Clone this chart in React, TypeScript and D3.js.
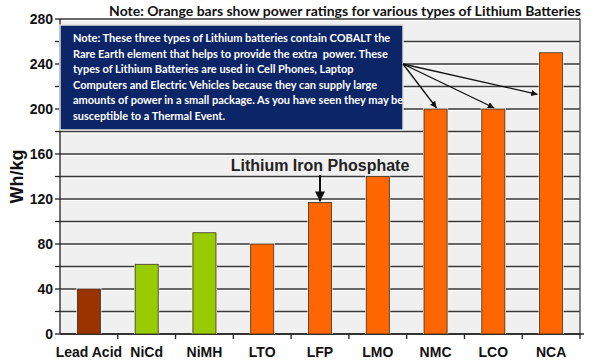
import React from 'react'
import * as d3 from 'd3'

const WIDTH = 600
const HEIGHT = 362
const LEFT = 60
const RIGHT = 580
const TOP = 19
const BOTTOM = 334

const categories = ['Lead Acid', 'NiCd', 'NiMH', 'LTO', 'LFP', 'LMO', 'NMC', 'LCO', 'NCA']
const values = [40, 62, 90, 80, 117, 140, 200, 200, 250]
const kinds = ['lead', 'nickel', 'nickel', 'lithium', 'lithium', 'lithium', 'lithium', 'lithium', 'lithium']
const yLabels = [0, 40, 80, 120, 160, 200, 240, 280]
const cobaltTypes = ['NMC', 'LCO', 'NCA']

const noteLines = [
  'Note: These three types of Lithium batteries contain COBALT the',
  'Rare Earth element that helps to provide the extra  power. These',
  'types of Lithium Batteries are used in Cell Phones, Laptop',
  'Computers and Electric Vehicles because they can supply large',
  'amounts of power in a small package. As you have seen they may be',
  'susceptible to a Thermal Event.',
]

const colours: Record<string, string> = {
  lead: '#993300',
  nickel: '#99cc00',
  lithium: '#ff6600',
}

const BOLD = '"Liberation Sans", Arial, sans-serif'
const NOTE_FONT = 'Lato, "Open Sans", sans-serif'

export default function App() {
  const x = d3.scaleBand<string>().domain(categories).range([LEFT, RIGHT]).padding(0)
  const y = d3.scaleLinear().domain([0, 280]).range([BOTTOM, TOP])
  const bw = x.bandwidth()
  const gridValues = d3.range(0, 281, 20)

  const barX = (c: string) => (x(c) as number) + bw * 0.3
  const barW = bw * 0.4
  const centre = (c: string) => (x(c) as number) + bw / 2

  // note box sits on the top-left of the plot
  const box = { x0: LEFT, y0: 25, x1: 403, y1: 130 }
  const arrowFrom = { x: box.x1, y: y(240) }

  return (
    <svg width={WIDTH} height={HEIGHT} style={{ position: 'absolute', left: 0, top: 0, background: '#fff' }}>
      <defs>
        <marker id="ah" viewBox="0 0 10 10" refX="10" refY="5" markerWidth="5" markerHeight="5" orient="auto">
          <path d="M0,0 L10,5 L0,10 z" fill="#111" />
        </marker>
      </defs>

      <rect x={LEFT} y={TOP} width={RIGHT - LEFT} height={BOTTOM - TOP} fill="#f0f0f0" />

      {gridValues.map(v => (
        <g key={v}>
          <line x1={LEFT} x2={RIGHT} y1={y(v) + 1.5} y2={y(v) + 1.5} stroke="#fff" strokeWidth={1.2} />
          <line x1={LEFT} x2={RIGHT} y1={y(v)} y2={y(v)} stroke="#3a3a3a" strokeWidth={1.5} />
          <line x1={LEFT - 5} x2={LEFT} y1={y(v)} y2={y(v)} stroke="#222" strokeWidth={1.3} />
        </g>
      ))}

      <line x1={RIGHT} x2={RIGHT} y1={TOP} y2={BOTTOM} stroke="#444" strokeWidth={1.3} />
      <line x1={LEFT} x2={LEFT} y1={TOP} y2={BOTTOM} stroke="#222" strokeWidth={1.3} />
      <line x1={LEFT} x2={RIGHT + 4} y1={BOTTOM} y2={BOTTOM} stroke="#222" strokeWidth={1.3} />

      {categories.map((c, i) => (
        <g key={c}>
          <line x1={(x(c) as number) + bw} x2={(x(c) as number) + bw} y1={BOTTOM} y2={BOTTOM + 5} stroke="#222" strokeWidth={1.3} />
          <rect x={barX(c) - 1} y={y(values[i]) - 1} width={barW + 2} height={BOTTOM - y(values[i]) + 1} fill="#fff" />
          <rect x={barX(c)} y={y(values[i])} width={barW} height={BOTTOM - y(values[i])}
            fill={colours[kinds[i]]} stroke="#3a2a1a" strokeWidth={0.8} />
          <text x={centre(c)} y={BOTTOM + 23} textAnchor="middle" fontFamily={BOLD} fontWeight="bold"
            fontSize={14} fill="#111">{c}</text>
        </g>
      ))}

      {yLabels.map(v => (
        <text key={v} x={53} y={y(v) + 5} textAnchor="end" fontFamily={BOLD} fontWeight="bold" fontSize={14} fill="#111">{v}</text>
      ))}

      <text transform={`translate(23,${(TOP + BOTTOM) / 2}) rotate(-90)`} textAnchor="middle"
        fontFamily={BOLD} fontWeight="bold" fontSize={18} fill="#111">Wh/kg</text>

      <text x={345} y={16} textAnchor="middle" fontFamily={NOTE_FONT} fontWeight="bold"
        fontSize={14} fill="#111">Note: Orange bars show power ratings for various types of Lithium Batteries</text>

      <rect x={box.x0} y={box.y0} width={box.x1 - box.x0} height={box.y1 - box.y0} fill="#0c2566" stroke="#ddd" strokeWidth={1.5} />
      {noteLines.map((line, i) => (
        <text key={i} x={box.x0 + 13} y={42 + i * 15.6} fontFamily={NOTE_FONT} fontWeight="bold"
          fontSize={11} fill="#fff" style={{ whiteSpace: 'pre' }}>{line}</text>
      ))}

      {cobaltTypes.map(c => {
        const i = categories.indexOf(c)
        const isLast = c === 'NCA'
        const tx = isLast ? barX(c) - 2 : centre(c) + 1
        const ty = isLast ? y(213) : y(values[i]) - 1
        return (
          <line key={c} x1={arrowFrom.x} y1={arrowFrom.y} x2={tx} y2={ty} stroke="#111" strokeWidth={1.3} markerEnd="url(#ah)" />
        )
      })}

      <text x={320} y={171} textAnchor="middle" fontFamily={BOLD} fontWeight="bold" fontSize={16} fill="#222">Lithium Iron Phosphate</text>
      <line x1={centre('LFP')} x2={centre('LFP')} y1={175} y2={y(values[4]) - 1} stroke="#111" strokeWidth={2} markerEnd="url(#ah)" />
    </svg>
  )
}
